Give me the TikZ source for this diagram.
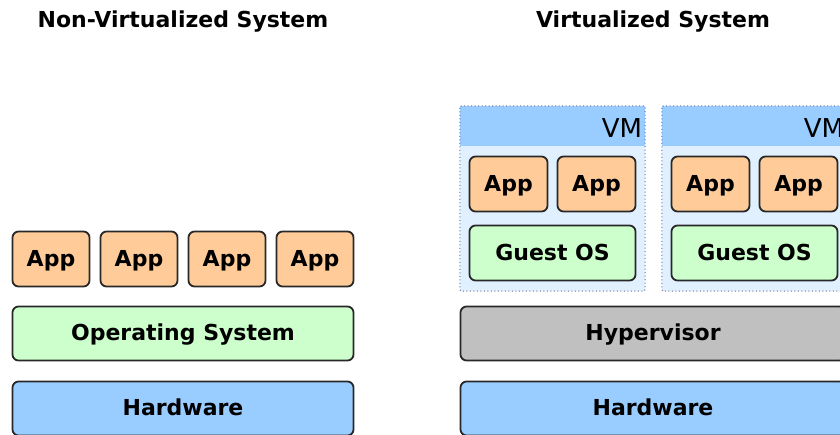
\documentclass[tikz,border=0pt]{standalone}
\usepackage{fontspec}
\setmainfont{DejaVu Sans}
\usepackage{xcolor}
\usepackage{tikz}
\usetikzlibrary{calc}

\definecolor{appfill}{HTML}{FFCC99}
\definecolor{osfill}{HTML}{CCFFCC}
\definecolor{hwfill}{HTML}{99CCFF}
\definecolor{hvfill}{HTML}{C0C0C0}
\definecolor{vmfill}{HTML}{E0F0FF}
\definecolor{vmline}{HTML}{6A6A9A}
\definecolor{edge}{HTML}{282828}

\tikzset{
  block/.style={draw=edge, line width=1.8pt, rounded corners=6pt, text=black,
    font=\fontsize{22}{26}\selectfont\bfseries, inner sep=0pt, text depth=2pt},
  appbox/.style={block, fill=appfill, minimum width=77pt, minimum height=55pt},
  osbox/.style={block, fill=osfill, minimum height=54pt},
  hwbox/.style={block, fill=hwfill, minimum height=54pt},
  hvbox/.style={block, fill=hvfill, minimum height=54pt},
  vmbox/.style={fill=vmfill, minimum width=185pt, minimum height=185pt, inner sep=0pt},
  vmedge/.style={draw=vmline, line width=1pt, dash pattern=on 1pt off 2.5pt, rounded corners=2pt},
  title/.style={font=\fontsize{22}{26}\selectfont\bfseries, text=black}
}

\begin{document}
\begin{tikzpicture}[x=1pt, y=-1pt]
                    \clip (0,0) rectangle (840,434);
                    \useasboundingbox (0,0) rectangle (840,434);

                    \node[title] (T0) at (183,22) {Non-Virtualized System};
                    \node[title] (T1) at (653,22) {Virtualized System};

                    \node[appbox] (A1) at (51,259) {App};
                    \node[appbox] (A2) at (139,259) {App};
                    \node[appbox] (A3) at (227,259) {App};
                    \node[appbox] (A4) at (315,259) {App};
                    \node[osbox, minimum width=341pt] (OS) at (183,333.5) {Operating System};
                    \node[hwbox, minimum width=341pt] (HW0) at (183,408.5) {Hardware};

                    \node[vmbox] (VM1) at (552.5,198.5) {};
                    \fill[hwfill] (VM1.north west) rectangle ($(VM1.north east)+(0,40)$);
                    \node[anchor=east, font=\fontsize{26}{30}\selectfont, inner sep=3pt] (L1) at ($(VM1.north east)+(0,22)$) {VM};
                    \draw[vmedge] (VM1.north west) rectangle (VM1.south east);
                    \node[appbox, minimum width=78pt] (B1) at (508.5,184) {App};
                    \node[appbox, minimum width=78pt] (B2) at (596.5,184) {App};
                    \node[osbox, minimum width=166pt, minimum height=55pt] (G1) at (552.5,253) {Guest OS};

                    \node[vmbox] (VM2) at (754.5,198.5) {};
                    \fill[hwfill] (VM2.north west) rectangle ($(VM2.north east)+(0,40)$);
                    \node[anchor=east, font=\fontsize{26}{30}\selectfont, inner sep=3pt] (L2) at ($(VM2.north east)+(0,22)$) {VM};
                    \draw[vmedge] (VM2.north west) rectangle (VM2.south east);
                    \node[appbox, minimum width=78pt] (C1) at (710.5,184) {App};
                    \node[appbox, minimum width=78pt] (C2) at (798.5,184) {App};
                    \node[osbox, minimum width=166pt, minimum height=55pt] (G2) at (754.5,253) {Guest OS};

                    \node[hvbox, minimum width=385pt] (HV) at (653,333.5) {Hypervisor};
                    \node[hwbox, minimum width=385pt] (HW1) at (653,408.5) {Hardware};
\end{tikzpicture}
\end{document}
